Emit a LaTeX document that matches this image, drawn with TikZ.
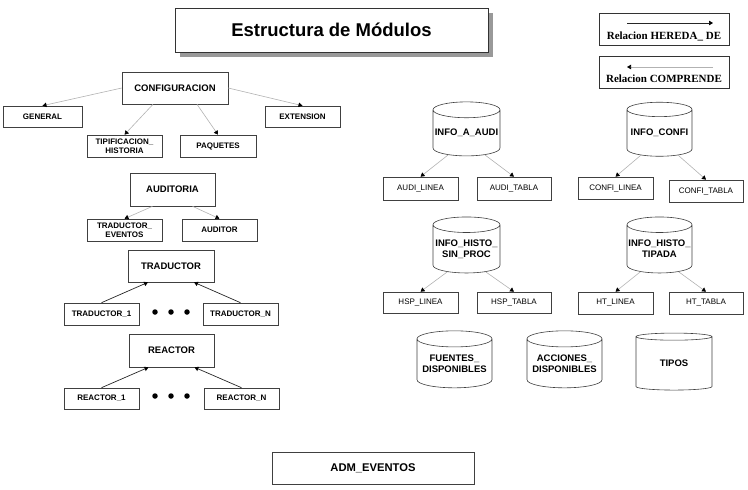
\documentclass[tikz,border=0pt]{standalone}
\usepackage{fontspec}
\setmainfont{Liberation Serif}
\setsansfont{Liberation Sans}
\usetikzlibrary{shapes.geometric,arrows.meta,calc}
\tikzset{
  bx/.style={draw=black!75, line width=0.6pt, fill=white, inner sep=0pt, align=center,
    font=\sffamily\bfseries\fontsize{8}{9.5}\selectfont},
  bigbx/.style={bx, font=\sffamily\bfseries\fontsize{9.5}{11}\selectfont},
  plainbx/.style={bx, font=\sffamily\fontsize{8}{9.5}\selectfont},
  cyl/.style={cylinder, shape border rotate=90, aspect=0.25, draw=black!75, line width=0.6pt,
    fill=white, inner sep=0pt, align=center, font=\sffamily\bfseries\fontsize{9.5}{11}\selectfont},
  comp/.style={draw=black!30, line width=0.6pt, -{Triangle[length=4pt,width=4.5pt,color=black]}},
  hereda/.style={draw=black!85, line width=0.7pt, -{Triangle[length=4pt,width=4.5pt,color=black]}},
  dotn/.style={circle, fill=black, inner sep=0pt, minimum size=5.5pt},
  legtext/.style={font=\rmfamily\bfseries\fontsize{11}{13}\selectfont, inner sep=0pt},
}
\begin{document}
\begin{tikzpicture}[x=1pt,y=-1pt]
\useasboundingbox (0,0) rectangle (748,490);
% title
\fill[black!40] (180,13) rectangle (493,57);
\node[draw=black!80, line width=0.6pt, fill=white, minimum width=313pt, minimum height=44pt,
  font=\sffamily\bfseries\fontsize{18.5}{22}\selectfont] (title) at (331.5,30) {Estructura de Módulos};
% legend
\node[draw=black!80, line width=0.6pt, minimum width=130pt, minimum height=32pt] (leg1) at (664,29) {};
\node[legtext] (leg1t) at (664,36) {Relacion HEREDA\_ DE};
\coordinate (h1a) at (627,23); \coordinate (h1b) at (713,23);
\draw[hereda] (h1a) -- (h1b);
\node[draw=black!80, line width=0.6pt, minimum width=130pt, minimum height=32pt] (leg2) at (664,72) {};
\node[legtext] (leg2t) at (664,79) {Relacion COMPRENDE};
\coordinate (c1a) at (713,67); \coordinate (c1b) at (627,67);
\draw[comp] (c1a) -- (c1b);
% left tree
\node[bigbx, minimum width=106pt, minimum height=32pt] (conf) at (175,88) {CONFIGURACION};
\node[bx, minimum width=79pt, minimum height=21pt] (gen) at (42.5,116.5) {GENERAL};
\node[bx, minimum width=75pt, minimum height=21pt] (ext) at (302.5,116.5) {EXTENSION};
\node[bx, minimum width=75pt, minimum height=22pt] (tip) at (124.5,146) {TIPIFICACION\_\\HISTORIA};
\node[bx, minimum width=76pt, minimum height=22pt] (paq) at (218,146) {PAQUETES};
\draw[comp] (conf.west) -- (gen.north);
\draw[comp] (conf.east) -- (ext.north);
\draw[comp] ([xshift=-22pt]conf.south) -- (tip.north);
\draw[comp] ([xshift=22pt]conf.south) -- (paq.north);
\node[bigbx, minimum width=85pt, minimum height=33pt] (aud) at (172.5,189.5) {AUDITORIA};
\node[bx, minimum width=75pt, minimum height=22pt] (tev) at (124.5,230) {TRADUCTOR\_\\EVENTOS};
\node[bx, minimum width=75pt, minimum height=22pt] (audr) at (219.5,230) {AUDITOR};
\draw[comp] ([xshift=-20pt]aud.south) -- (tev.north);
\draw[comp] ([xshift=20pt]aud.south) -- (audr.north);
\node[bigbx, minimum width=86pt, minimum height=32pt] (trad) at (171,266) {TRADUCTOR};
\node[bx, minimum width=75pt, minimum height=22pt] (t1) at (101.5,314) {TRADUCTOR\_1};
\node[bx, minimum width=75pt, minimum height=22pt] (tn) at (240.5,314) {TRADUCTOR\_N};
\node[dotn] (td1) at (155,312) {}; \node[dotn] (td2) at (171,312) {}; \node[dotn] (td3) at (187,312) {};
\draw[hereda] (t1.north) -- ([xshift=-23pt]trad.south);
\draw[hereda] (tn.north) -- ([xshift=23pt]trad.south);
\node[bigbx, minimum width=85pt, minimum height=33pt] (reac) at (171.5,350.5) {REACTOR};
\node[bx, minimum width=75pt, minimum height=21pt] (r1) at (101.5,398.5) {REACTOR\_1};
\node[bx, minimum width=75pt, minimum height=21pt] (rn) at (241.5,398.5) {REACTOR\_N};
\node[dotn] (rd1) at (155,396) {}; \node[dotn] (rd2) at (171,396) {}; \node[dotn] (rd3) at (187,396) {};
\draw[hereda] (r1.north) -- ([xshift=-23pt]reac.south);
\draw[hereda] (rn.north) -- ([xshift=23pt]reac.south);
% right side
\node[cyl, minimum width=67pt, minimum height=54pt] (ia) at (466.5,133) {INFO\_A\_AUDI};
\node[plainbx, minimum width=75pt, minimum height=23pt] (al) at (420.5,188.5) {AUDI\_LINEA};
\node[plainbx, minimum width=74pt, minimum height=23pt] (at) at (514,188.5) {AUDI\_TABLA};
\draw[comp] (ia.230) -- (al.north);
\draw[comp] (ia.310) -- (at.north);
\node[cyl, minimum width=65pt, minimum height=54pt] (ic) at (659.5,133) {INFO\_CONFI};
\node[plainbx, minimum width=75pt, minimum height=22pt] (cl) at (615.5,188) {CONFI\_LINEA};
\node[plainbx, minimum width=74pt, minimum height=22pt] (ct) at (706,191) {CONFI\_TABLA};
\draw[comp] (ic.230) -- (cl.north);
\draw[comp] (ic.310) -- (ct.north);
\node[cyl, minimum width=67pt, minimum height=56pt] (ihs) at (466.5,249) {INFO\_HISTO\_\\SIN\_PROC};
\node[plainbx, minimum width=75pt, minimum height=21pt] (hl) at (420.5,302.5) {HSP\_LINEA};
\node[plainbx, minimum width=74pt, minimum height=21pt] (ht) at (514,302.5) {HSP\_TABLA};
\draw[comp] (ihs.230) -- (hl.north);
\draw[comp] (ihs.310) -- (ht.north);
\node[cyl, minimum width=65pt, minimum height=56pt] (iht) at (659.5,249) {INFO\_HISTO\_\\TIPADA};
\node[plainbx, minimum width=75pt, minimum height=22pt] (tl) at (615.5,303) {HT\_LINEA};
\node[plainbx, minimum width=74pt, minimum height=22pt] (tt) at (706,303) {HT\_TABLA};
\draw[comp] (iht.230) -- (tl.north);
\draw[comp] (iht.310) -- (tt.north);
\node[cyl, minimum width=75pt, minimum height=57pt] (fue) at (454.5,363.5) {FUENTES\_\\DISPONIBLES};
\node[cyl, minimum width=75pt, minimum height=57pt] (acc) at (564.5,363.5) {ACCIONES\_\\DISPONIBLES};
\node[cyl, minimum width=76pt, minimum height=57pt] (tps) at (674,363.5) {TIPOS};
% bottom
\node[bx, font=\sffamily\bfseries\fontsize{11.2}{13}\selectfont, minimum width=202pt, minimum height=32pt] (adm) at (373,468) {ADM\_EVENTOS};
\end{tikzpicture}
\end{document}
